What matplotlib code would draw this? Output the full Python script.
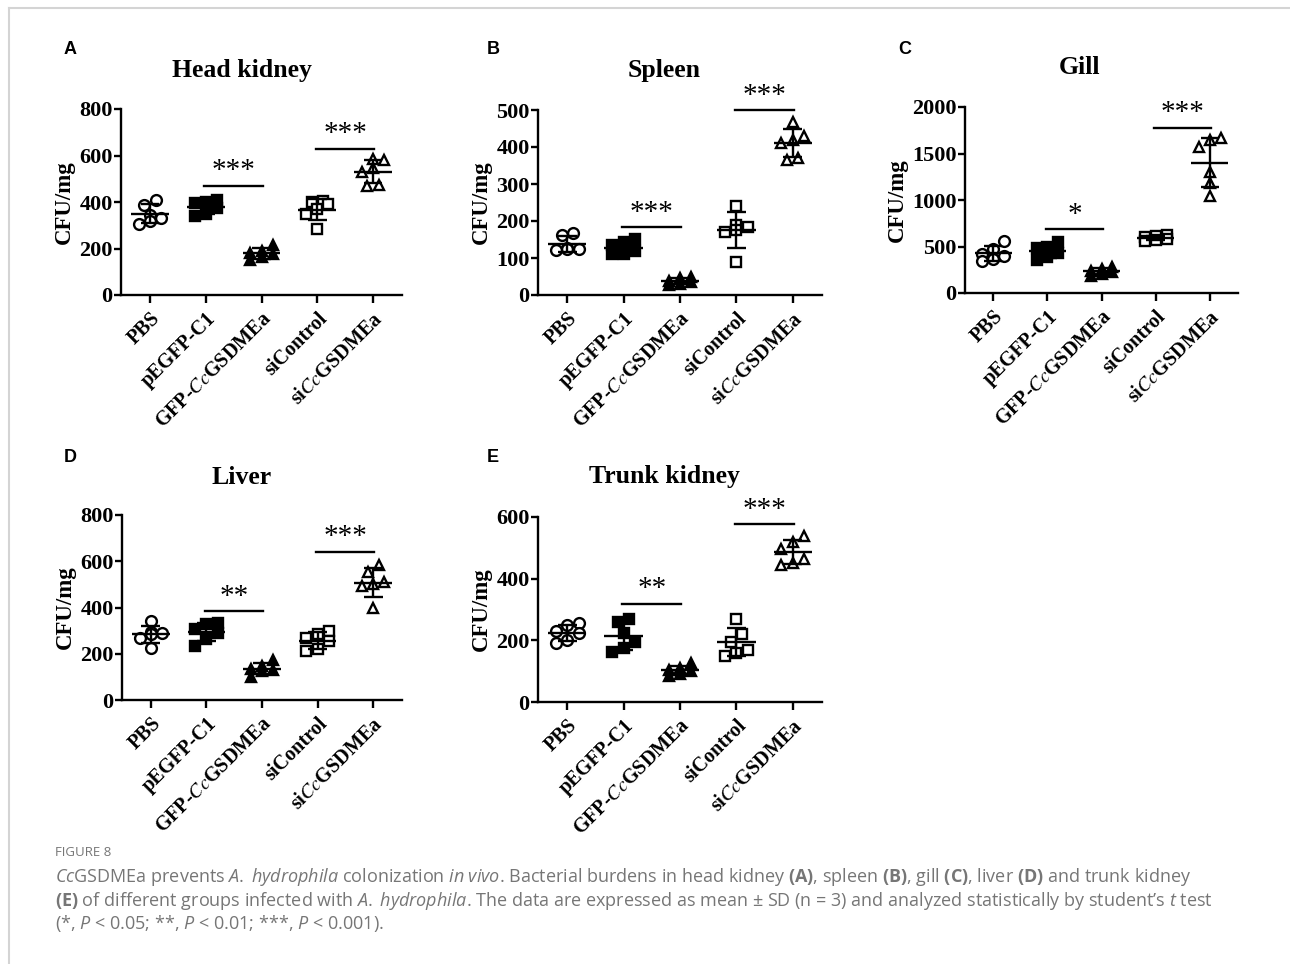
import numpy as np
import matplotlib
matplotlib.use("Agg")
import matplotlib.pyplot as plt
from matplotlib.lines import Line2D

plt.rcParams['mathtext.fontset'] = 'custom'
plt.rcParams['mathtext.rm'] = 'Open Sans'
plt.rcParams['mathtext.it'] = 'Open Sans:italic'
plt.rcParams['mathtext.bf'] = 'Open Sans:bold'

groups = ["PBS", "pEGFP-C1", r"GFP-$\mathit{Cc}$GSDMEa", "siControl", r"si$\mathit{Cc}$GSDMEa"]

# CFU/mg, six fish per group
head_kidney = [[410, 385, 345, 330, 320, 305],
               [408, 402, 395, 375, 350, 340],
               [215, 190, 180, 175, 165, 150],
               [405, 400, 390, 370, 350, 285],
               [585, 580, 545, 530, 475, 470]]
spleen = [[168, 162, 128, 125, 123, 122],
          [152, 142, 135, 118, 112, 110],
          [50, 45, 38, 35, 30, 28],
          [240, 190, 185, 175, 170, 90],
          [468, 430, 420, 410, 370, 365]]
gill = [[555, 470, 420, 395, 365, 345],
        [550, 500, 480, 430, 390, 360],
        [280, 260, 240, 225, 200, 185],
        [625, 610, 600, 585, 575, 560],
        [1665, 1645, 1575, 1300, 1180, 1040]]
liver = [[340, 295, 290, 285, 270, 225],
         [335, 330, 305, 290, 265, 235],
         [175, 145, 135, 130, 125, 100],
         [300, 285, 270, 255, 220, 210],
         [585, 555, 510, 500, 495, 400]]
trunk_kidney = [[255, 250, 230, 225, 200, 190],
                [270, 258, 225, 195, 175, 162],
                [125, 110, 105, 100, 90, 85],
                [270, 220, 195, 170, 160, 150],
                [540, 520, 495, 465, 450, 445]]

panels = [
    # letter, title, data, ymax, ystep, sig1 (y, stars), sig2 (y, stars)
    ("A", "Head kidney", head_kidney, 800, 200, (470, "***"), (630, "***")),
    ("B", "Spleen", spleen, 500, 100, (183, "***"), (500, "***")),
    ("C", "Gill", gill, 2000, 500, (686, "*"), (1779, "***")),
    ("D", "Liver", liver, 800, 200, (384, "**"), (641, "***")),
    ("E", "Trunk kidney", trunk_kidney, 600, 200, (319, "**"), (576, "***")),
]

# marker, filled
styles = [("o", False), ("s", True), ("^", True), ("s", False), ("^", False)]

W, H = 1290, 964
# axes boxes in pixels: left, top, right, bottom
boxes = [(121, 109, 402, 295), (538, 110, 822, 295), (965, 107, 1238, 293),
         (122, 515, 402, 700), (538, 517, 822, 702)]
letter_pos = [(64, 50), (487, 50), (898, 50), (64, 458), (487, 458)]
title_pos = [(242, 70), (664, 70), (1080, 68), (242, 477), (664, 477)]

serif = "Liberation Serif"


def spread(vals, tol, step=0.2):
    vals = np.asarray(vals, float)
    order = np.argsort(vals)
    xs = np.zeros(len(vals))
    grp = [[order[0]]]
    for i in order[1:]:
        if vals[i] - vals[grp[-1][-1]] < tol and len(grp[-1]) < 3:
            grp[-1].append(i)
        else:
            grp.append([i])
    for g in grp:
        n = len(g)
        for k, i in enumerate(g):
            xs[i] = (k - (n - 1) / 2) * step
    return xs


fig = plt.figure(figsize=(W / 100, H / 100), dpi=100)

for p, (letter, title, data, ymax, ystep, sig1, sig2) in enumerate(panels):
    l, t, r, b = boxes[p]
    ax = fig.add_axes([l / W, 1 - b / H, (r - l) / W, (b - t) / H])
    for i, vals in enumerate(data):
        vals = np.array(vals, float)
        xs = i + spread(vals, ymax * 0.045)
        mk, filled = styles[i]
        ax.plot(xs, vals, linestyle="none", marker=mk, markersize=7.8,
                markeredgewidth=1.7, markeredgecolor="black",
                markerfacecolor="black" if filled else "white", zorder=3, clip_on=False)
        m = vals.mean()
        sd = vals.std(ddof=1)
        kw = dict(color="black", lw=1.7, zorder=4, solid_capstyle="butt")
        ax.plot([i - 0.34, i + 0.34], [m, m], **kw)
        ax.plot([i, i], [m - sd, m + sd], **kw)
        ax.plot([i - 0.17, i + 0.17], [m + sd, m + sd], **kw)
        ax.plot([i - 0.17, i + 0.17], [m - sd, m - sd], **kw)
    for (x1, x2), (sy, stars) in zip([(1, 2), (3, 4)], [sig1, sig2]):
        ax.plot([x1 - 0.03, x2 + 0.02], [sy, sy], color="black", lw=1.7, clip_on=False)
        ax.annotate(stars, xy=((x1 + x2) / 2, sy), xytext=(0, 1), textcoords="offset points",
                    ha="center", va="bottom", fontsize=21, family=serif, annotation_clip=False)
    ax.set_xlim(-0.52, 4.52)
    ax.set_ylim(0, ymax)
    ax.set_yticks(np.arange(0, ymax + 1, ystep))
    ax.set_xticks(range(5))
    ax.set_xticklabels(groups, rotation=45, ha="right", va="top", rotation_mode="anchor",
                       family=serif, fontweight="bold", fontsize=14.5, math_fontfamily="stix")
    for lab in ax.get_yticklabels():
        lab.set_family(serif)
        lab.set_fontweight("bold")
        lab.set_fontsize(16)
    ax.spines["top"].set_visible(False)
    ax.spines["right"].set_visible(False)
    for s in ("left", "bottom"):
        ax.spines[s].set_linewidth(1.7)
    ax.tick_params(axis="both", width=1.7, length=5, pad=1)
    ax.tick_params(axis="x", length=6, pad=4)
    ax.set_ylabel("CFU/mg", family=serif, fontweight="bold", fontsize=16.5, labelpad=3)
    ax.patch.set_alpha(0)
    fig.text(letter_pos[p][0] / W, 1 - letter_pos[p][1] / H, letter, family="Liberation Sans",
             fontweight="bold", fontsize=13, ha="left", va="center")
    fig.text(title_pos[p][0] / W, 1 - title_pos[p][1] / H, title, family=serif,
             fontweight="bold", fontsize=18.5, ha="center", va="center")

# frame of the page
fig.add_artist(Line2D([9 / W, 1], [1 - 8 / H] * 2, color="#d4d4d4", lw=1.5))
fig.add_artist(Line2D([9 / W] * 2, [0, 1 - 8 / H], color="#d4d4d4", lw=1.5))

grey = "#767676"
fig.text(55 / W, 1 - 853 / H, "FIGURE 8", family="Open Sans", fontsize=9.5, color=grey,
         va="center")
caption = [
    r"$\mathit{Cc}$GSDMEa prevents $\mathit{A.\;hydrophila}$ colonization $\mathit{in\;vivo}$. "
    r"Bacterial burdens in head kidney $\mathbf{(A)}$, spleen $\mathbf{(B)}$, gill $\mathbf{(C)}$, "
    r"liver $\mathbf{(D)}$ and trunk kidney",
    r"$\mathbf{(E)}$ of different groups infected with $\mathit{A.\;hydrophila}$. The data are "
    r"expressed as mean ± SD (n = 3) and analyzed statistically by student’s $\mathit{t}$ test",
    r"(*, $\mathit{P}$ < 0.05; **, $\mathit{P}$ < 0.01; ***, $\mathit{P}$ < 0.001).",
]
for k, line in enumerate(caption):
    fig.text(55 / W, 1 - (877 + 23.5 * k) / H, line, family="Open Sans", fontsize=13,
             color=grey, va="center")

fig.savefig("out.png", dpi=100, facecolor="white")
